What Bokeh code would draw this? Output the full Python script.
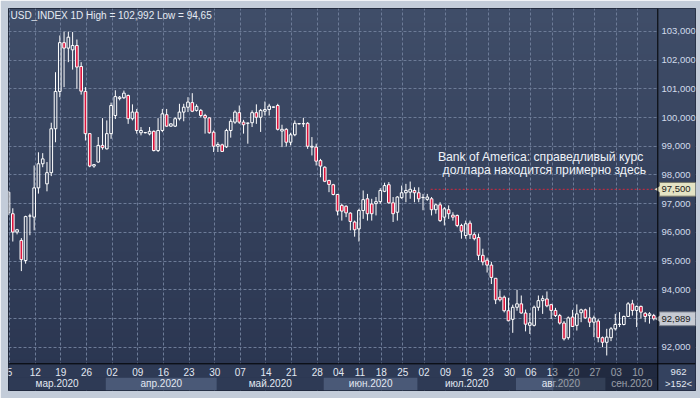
import numpy as np
from bokeh.plotting import figure
from bokeh.models import ColumnDataSource, Range1d, FixedTicker, Span, Label
from bokeh.core.properties import value
from bokeh.embed import file_html
from bokeh.resources import INLINE

# ---------------- data ----------------
first_bar = -1
opens = [96.68, 96.65, 96.01, 95.72, 95.02, 96.57, 96.53, 97.55, 98.39, 97.69, 98.08, 99.61, 100.91, 102.61, 102.42, 102.36,
         102.51, 101.78, 100.91, 99.44, 98.31, 98.45, 99.03, 98.91, 99.44, 100.07, 100.66, 100.69, 100.77, 99.96, 100.19,
         99.47, 99.47, 99.43, 99.52, 98.85, 99.55, 100.10, 99.70, 99.70, 99.96, 100.19, 100.36, 100.52, 100.25, 100.25,
         100.07, 99.99, 99.49, 99.00, 99.05, 98.98, 99.55, 99.84, 100.17, 99.84, 99.80, 99.82, 100.17, 100.01, 100.22,
         100.28, 100.36, 100.42, 99.53, 99.59, 99.14, 99.40, 99.78, 99.78, 99.80, 98.97, 98.97, 98.50, 98.27, 97.81,
         97.66, 97.32, 96.94, 96.91, 96.67, 96.36, 96.12, 96.76, 97.17, 96.99, 97.00, 97.07, 97.43, 97.66, 97.03, 96.70,
         97.21, 97.38, 97.40, 97.46, 97.38, 97.21, 97.15, 97.17, 96.79, 96.96, 96.53, 96.79, 96.60, 96.59, 96.24, 95.89,
         96.32, 95.92, 95.82, 95.20, 95.03, 94.86, 94.40, 93.74, 93.74, 93.27, 92.97, 93.39, 93.51, 93.19, 92.76, 92.76,
         93.39, 93.62, 93.68, 93.48, 93.28, 93.10, 92.84, 92.33, 93.05, 92.76, 93.20, 93.30, 93.02, 92.87, 92.91, 92.33,
         92.17, 92.33, 92.64, 92.79, 92.79, 93.07, 93.51, 93.28, 93.42, 93.18, 93.10, 93.10]
highs = [97.45, 96.84, 96.12, 95.80, 96.58, 96.65, 98.33, 98.79, 98.76, 98.45, 99.82, 101.58, 102.86, 102.99, 102.992, 102.98,
         102.72, 101.93, 101.06, 99.44, 98.38, 99.32, 99.98, 99.90, 100.52, 100.95, 100.75, 100.94, 100.80, 100.46, 100.30,
         99.67, 99.49, 99.67, 99.55, 99.98, 100.30, 100.30, 99.80, 100.01, 100.48, 100.48, 100.71, 100.85, 100.46, 100.30,
         100.13, 100.01, 99.55, 99.14, 99.09, 99.61, 99.96, 100.25, 100.42, 99.92, 99.82, 100.25, 100.46, 100.30, 100.56,
         100.48, 100.38, 100.48, 99.75, 99.63, 99.47, 99.90, 99.80, 99.99, 99.84, 99.32, 99.09, 98.56, 98.30, 97.83,
         97.69, 97.34, 97.00, 96.94, 96.70, 96.41, 96.82, 97.46, 97.34, 97.17, 97.23, 97.54, 97.73, 97.75, 97.23, 97.26,
         97.63, 97.69, 97.77, 97.57, 97.57, 97.34, 97.34, 97.23, 97.00, 97.05, 96.88, 96.94, 96.70, 96.62, 96.30, 96.41,
         96.41, 95.99, 95.96, 95.43, 95.12, 94.97, 94.40, 93.98, 93.80, 93.72, 93.48, 94.00, 93.80, 93.31, 93.19, 93.45,
         93.80, 93.80, 93.94, 93.51, 93.37, 93.16, 92.91, 93.07, 93.30, 93.49, 93.34, 93.34, 93.39, 93.10, 92.99, 92.37,
         92.64, 92.70, 93.16, 93.22, 93.10, 93.57, 93.65, 93.45, 93.45, 93.22, 93.22, 93.16]
lows = [96.60, 95.68, 95.93, 94.65, 94.91, 95.90, 96.07, 97.35, 98.27, 97.43, 97.96, 99.14, 100.71, 101.06, 101.93, 101.67,
        101.00, 100.80, 99.20, 98.27, 98.25, 98.43, 98.88, 98.89, 99.26, 99.95, 100.60, 100.65, 99.78, 99.90, 99.44,
        99.38, 99.45, 99.38, 98.82, 98.80, 99.49, 99.67, 99.68, 99.67, 99.90, 99.87, 100.19, 100.19, 100.21, 100.01,
        99.44, 99.44, 98.80, 98.80, 98.80, 98.94, 99.30, 99.78, 99.78, 99.44, 99.09, 99.67, 99.78, 99.50, 100.07,
        100.07, 100.34, 99.55, 98.97, 98.99, 99.03, 99.35, 99.76, 99.67, 98.91, 98.68, 98.33, 97.92, 97.75, 97.40,
        97.29, 96.59, 96.41, 96.53, 96.07, 95.85, 95.68, 96.47, 96.41, 96.41, 96.59, 97.00, 97.40, 97.00, 96.36, 96.41,
        97.17, 97.05, 97.17, 97.05, 97.05, 96.77, 97.10, 96.59, 96.65, 96.36, 96.24, 96.47, 96.41, 96.18, 95.78, 95.78,
        95.77, 95.72, 95.03, 94.85, 94.60, 94.20, 93.50, 93.59, 93.21, 92.90, 92.50, 93.27, 93.17, 92.55, 92.46, 92.72,
        93.27, 93.16, 93.39, 92.98, 93.05, 92.79, 92.23, 92.26, 92.70, 92.58, 92.87, 92.99, 92.70, 92.35, 92.17, 92.00,
        91.71, 92.21, 92.58, 92.70, 92.76, 93.05, 93.10, 92.70, 93.00, 92.87, 92.82, 92.93]
closes = [97.40, 96.01, 96.09, 95.05, 96.55, 96.57, 97.55, 98.39, 98.56, 98.08, 99.61, 100.91, 102.61, 102.42, 102.80, 102.51,
          101.76, 100.92, 99.44, 98.31, 98.36, 99.03, 98.95, 99.44, 100.42, 100.73, 100.71, 100.85, 99.96, 100.19, 99.55,
          99.55, 99.48, 99.52, 98.85, 99.55, 100.13, 99.70, 99.78, 99.96, 100.19, 100.36, 100.54, 100.22, 100.39, 100.07,
          99.99, 99.47, 99.00, 99.06, 98.82, 99.55, 99.87, 100.19, 99.84, 99.75, 99.81, 100.17, 100.01, 100.25, 100.28,
          100.40, 100.37, 99.59, 99.59, 99.14, 99.40, 99.80, 99.79, 99.79, 99.00, 99.00, 98.48, 98.31, 97.78, 97.67,
          97.32, 96.74, 96.74, 96.68, 96.38, 96.09, 96.76, 97.14, 96.65, 96.65, 97.07, 97.46, 97.63, 97.03, 96.65, 97.23,
          97.38, 97.46, 97.50, 97.38, 97.17, 97.22, 97.23, 96.79, 96.96, 96.41, 96.82, 96.65, 96.53, 96.24, 96.04, 96.30,
          95.92, 95.78, 95.20, 94.97, 94.86, 94.43, 93.65, 93.65, 93.27, 92.92, 93.39, 93.51, 93.19, 92.80, 92.85, 93.39,
          93.62, 93.69, 93.44, 93.28, 93.10, 92.84, 92.29, 93.02, 92.72, 93.16, 93.30, 93.02, 92.87, 93.02, 92.33, 92.17,
          92.35, 92.64, 92.79, 92.80, 93.07, 93.51, 93.28, 93.42, 93.22, 93.07, 93.16, 92.989]
bars = list(range(first_bar, first_bar + len(opens)))

price_ticks = list(range(92, 104))
price_labels = [f"{t:.3f}".replace(".", ",") for t in price_ticks]
week_bars = [-1, 5, 11, 17, 23, 29, 35, 41, 47, 53, 59, 65, 71,
             76, 81, 86, 91, 96, 101, 106, 111, 116, 121, 126, 131, 136, 141, 146]
week_labels = ["5", "12", "19", "26", "02", "09", "16", "23", "30", "07", "14", "21", "28",
               "04", "11", "18", "25", "02", "09", "16", "23", "30", "06", "13", "20", "27", "03", "10"]
month_first_bars = [22, 48, 73, 95, 118, 139]
month_labels = ["мар.2020", "апр.2020", "май.2020", "июн.2020", "июл.2020", "авг.2020", "сен.2020"]
fair_value = 97.5
fair_label = "97,500"
last_price = 92.989
last_label = "92,989"
header = "USD_INDEX 1D High = 102,992 Low = 94,65"
note_lines = ["Bank of America: справедливый курс", "доллара находится примерно здесь"]
note_bar = [123.6, 124.4]
note_level = [98.64, 98.16]
fair_line_from_bar = 97.8
selection_from_bar = 126.5
footer_texts = ["962", ">152<"]

# ---------------- layout / styling ----------------
FONT = "Liberation Sans"
TXT = "#e2e8f2"
RED = "#dc143c"
X0, CHART_END, X1 = -1.006, 150.95, 159.77     # bar-index scale; price column after CHART_END
PRICE_COL = 151.8
FOOT_COL = 155.8
Y0, Y1 = 90.49, 103.80
FH = 382
ROW_M = 12.7   # month row height (px from strip bottom)
ROW_D = 26.7   # top of day row

p = figure(width=700, height=398, x_range=Range1d(X0, X1), y_range=Range1d(Y0, Y1),
           x_axis_location=None, y_axis_location=None, toolbar_location=None,
           output_backend="svg", min_border_left=8, min_border_top=8, min_border_bottom=8,
           min_border_right=5, background_fill_color="#34415e", border_fill_color="#c3ccd9",
           outline_line_color="#1a2131")
p.extra_y_ranges = {"strip": Range1d(0, FH)}

# background gradient
n = 200
t = np.linspace(0.0, 1.0, n)[:, None]
c_bot = np.array([42, 53, 80], dtype=float)
c_top = np.array([64, 78, 105], dtype=float)
rgb = c_bot + (c_top - c_bot) * t
img = np.zeros((n, 1, 4), dtype=np.uint8)
img[:, 0, :3] = rgb.astype(np.uint8)
img[:, 0, 3] = 255
grad = img.view(np.uint32).reshape(n, 1)
p.image_rgba(image=[grad], x=X0, y=Y0, dw=X1 - X0, dh=Y1 - Y0, level="image")

# grids
GRID = "#6c7b97"
p.ygrid.ticker = FixedTicker(ticks=price_ticks)
p.ygrid.grid_line_color = GRID
p.ygrid.grid_line_dash = "3 2"
p.xgrid.ticker = FixedTicker(ticks=[b + 0.25 for b in week_bars])
p.xgrid.grid_line_color = GRID
p.xgrid.grid_line_dash = "3 2"

# price column (covers grid there)
p.image_rgba(image=[grad], x=CHART_END, y=Y0, dw=X1 - CHART_END, dh=Y1 - Y0)
p.text(x=[PRICE_COL] * len(price_ticks), y=price_ticks, text=price_labels, text_font=value(FONT),
       text_font_size="9.5px", text_align="left", text_baseline="middle", text_color="#d2dbeb")

# candles
up = {"x": [], "top": [], "bot": [], "h": [], "l": []}
dn = {"x": [], "top": [], "bot": [], "h": [], "l": []}
for b, o, h, l, c in zip(bars, opens, highs, lows, closes):
    d = up if c >= o else dn
    d["x"].append(b)
    d["top"].append(max(o, c))
    d["bot"].append(min(o, c))
    d["h"].append(h)
    d["l"].append(l)
for d, fill in ((up, None), (dn, RED)):
    src = ColumnDataSource(d)
    p.segment(x0="x", y0="top", x1="x", y1="h", source=src, line_color="white", line_width=1)
    p.segment(x0="x", y0="bot", x1="x", y1="l", source=src, line_color="white", line_width=1)
    p.vbar(x="x", width=0.62, top="top", bottom="bot", source=src, fill_color=fill,
           line_color="white", line_width=1)

# fair value line + note
p.segment(x0=[fair_line_from_bar], y0=[fair_value], x1=[CHART_END], y1=[fair_value],
          line_color="#d8283c", line_dash="2 2", line_width=1)
p.text(x=note_bar, y=note_level, text=note_lines, text_font=value(FONT), text_font_size="12.2px",
       text_align="center", text_baseline="middle", text_color="#eef2f8")

# price tags
TAG_H = 0.24
for lvl, txt, fill, edge in ((fair_value, fair_label, "#e4e3c4", "#77786a"),
                             (last_price, last_label, "#c6cad3", "#7a7f8c")):
    p.quad(left=[CHART_END + 0.4], right=[X1 + 1], bottom=[lvl - TAG_H], top=[lvl + TAG_H],
           fill_color=fill, line_color=edge, line_width=1)
    p.scatter(x=[CHART_END + 0.45], y=[lvl], marker="triangle", angle=np.pi / 2, size=9,
              fill_color=fill, line_color=None)
    p.text(x=[PRICE_COL], y=[lvl], text=[txt], text_font=value(FONT), text_font_size="9.5px",
           text_align="left", text_baseline="middle", text_color="#1a1a1a")

# date strip
p.quad(left=[X0], right=[CHART_END], bottom=[ROW_M], top=[ROW_D], y_range_name="strip",
       fill_color="#2e3a55", line_color=None)
edges = [X0] + [b - 0.25 for b in month_first_bars] + [CHART_END]
band_cols = ["#2e3a55" if i % 2 == 0 else "#4a5977" for i in range(len(month_labels))]
p.quad(left=edges[:-1], right=edges[1:], bottom=[0] * len(month_labels), top=[ROW_M] * len(month_labels),
       y_range_name="strip", fill_color=band_cols, line_color=None)
p.quad(left=[CHART_END], right=[X1], bottom=[0], top=[ROW_D], y_range_name="strip",
       fill_color="#34425f", line_color=None)
p.text(x=[b + 0.25 for b in week_bars], y=[18.3] * len(week_bars), text=week_labels, y_range_name="strip",
       text_font=value(FONT), text_font_size="10px", text_align="center", text_baseline="middle",
       text_color=TXT)
p.text(x=[(a + b) / 2 for a, b in zip(edges[:-1], edges[1:])], y=[6.6] * len(month_labels), text=month_labels,
       y_range_name="strip", text_font=value(FONT), text_font_size="10px", text_align="center",
       text_baseline="middle", text_color=TXT)
p.text(x=[FOOT_COL, FOOT_COL], y=[18.3, 6.6], text=footer_texts, y_range_name="strip",
       text_font=value(FONT), text_font_size="9.5px", text_align="center", text_baseline="middle",
       text_color=TXT)
p.quad(left=[selection_from_bar], right=[CHART_END], bottom=[0], top=[ROW_D], y_range_name="strip",
       fill_color="#0a0e1a", fill_alpha=0.35, line_color=None)

# separators
p.add_layout(Span(location=ROW_D, dimension="width", y_range_name="strip", line_color="black", line_width=1))
p.add_layout(Span(location=CHART_END, dimension="height", line_color="black", line_width=1))

# header
p.add_layout(Label(x=2, y=FH - 6.5, x_units="screen", y_units="screen", text=header,
                   text_font=FONT, text_font_size="10px", text_color="#e6ebf3", text_baseline="middle"))

open("out.html", "w").write(file_html(p, INLINE))
